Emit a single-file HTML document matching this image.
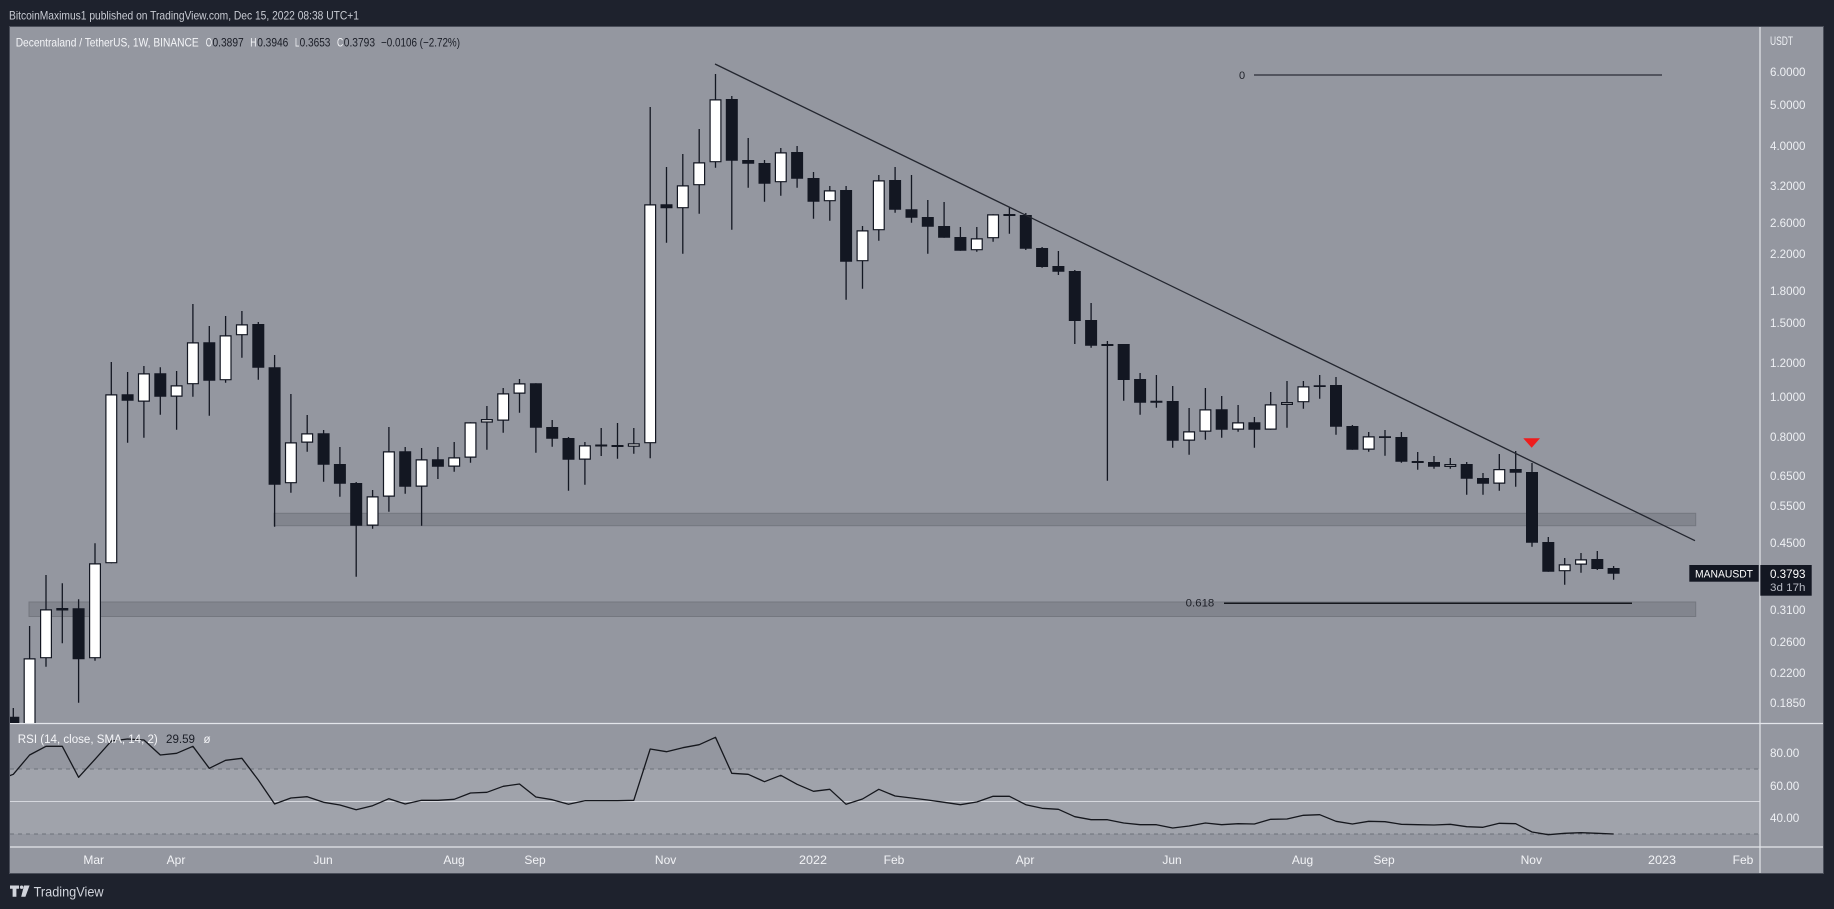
<!DOCTYPE html>
<html>
<head>
<meta charset="utf-8">
<style>
html,body{margin:0;padding:0;background:#1e222d;}
svg{display:block;}
text{font-family:"Liberation Sans",sans-serif;}
</style>
</head>
<body>
<svg width="1834" height="909" viewBox="0 0 1834 909" xmlns="http://www.w3.org/2000/svg">
<defs>
<clipPath id="pc"><rect x="10" y="27" width="1750" height="696"/></clipPath>
<clipPath id="rc"><rect x="10" y="724" width="1750" height="123"/></clipPath>
</defs>
<rect x="0" y="0" width="1834" height="909" fill="#1e222d"/>
<!-- header -->
<text x="9" y="19.5" font-size="12" fill="#c9ccd4" textLength="350" lengthAdjust="spacingAndGlyphs">BitcoinMaximus1 published on TradingView.com, Dec 15, 2022 08:38 UTC+1</text>
<!-- chart frame -->
<rect x="9.5" y="26.5" width="1814" height="847" fill="#9497a0" stroke="#4a4e59" stroke-width="1"/>
<!-- RSI band -->
<rect x="10" y="769" width="1750" height="65" fill="#a0a3ab"/>
<line x1="10" y1="769" x2="1760" y2="769" stroke="#6d707a" stroke-width="1" stroke-dasharray="4,4"/>
<line x1="10" y1="834" x2="1760" y2="834" stroke="#6d707a" stroke-width="1" stroke-dasharray="4,4"/>
<line x1="10" y1="801.5" x2="1760" y2="801.5" stroke="#d6d8de" stroke-width="1"/>
<!-- pane separators -->
<line x1="10" y1="723.5" x2="1823" y2="723.5" stroke="#e3e5ea" stroke-width="1.2"/>
<line x1="10" y1="847" x2="1823" y2="847" stroke="#e3e5ea" stroke-width="1.2"/>
<line x1="1760" y1="27" x2="1760" y2="873" stroke="#e3e5ea" stroke-width="1.2"/>

<!-- legend -->
<text x="15.7" y="46.5" font-size="12" fill="#f4f5f8" textLength="183" lengthAdjust="spacingAndGlyphs">Decentraland / TetherUS, 1W, BINANCE</text>
<text x="205.7" y="46.5" font-size="12" fill="#f4f5f8" textLength="6.3" lengthAdjust="spacingAndGlyphs">O</text>
<text x="212.5" y="46.5" font-size="12" fill="#1a1d26" textLength="31.2" lengthAdjust="spacingAndGlyphs">0.3897</text>
<text x="250.3" y="46.5" font-size="12" fill="#f4f5f8" textLength="6.2" lengthAdjust="spacingAndGlyphs">H</text>
<text x="257.2" y="46.5" font-size="12" fill="#1a1d26" textLength="31.1" lengthAdjust="spacingAndGlyphs">0.3946</text>
<text x="295" y="46.5" font-size="12" fill="#f4f5f8" textLength="4.2" lengthAdjust="spacingAndGlyphs">L</text>
<text x="299.6" y="46.5" font-size="12" fill="#1a1d26" textLength="30.8" lengthAdjust="spacingAndGlyphs">0.3653</text>
<text x="337" y="46.5" font-size="12" fill="#f4f5f8" textLength="6.2" lengthAdjust="spacingAndGlyphs">C</text>
<text x="343.8" y="46.5" font-size="12" fill="#1a1d26" textLength="31.2" lengthAdjust="spacingAndGlyphs">0.3793</text>
<text x="381" y="46.5" font-size="12" fill="#1a1d26" textLength="79" lengthAdjust="spacingAndGlyphs">−0.0106 (−2.72%)</text>

<g clip-path="url(#pc)">
<!-- support zones -->
<rect x="274" y="513.3" width="1421.7" height="12.4" fill="#82858e" stroke="#74777f" stroke-width="1"/>
<rect x="29" y="602" width="1666.7" height="14.5" fill="#82858e" stroke="#74777f" stroke-width="1"/>
<!-- fib lines -->
<line x1="1254" y1="75" x2="1662" y2="75" stroke="#2a2d36" stroke-width="1.3"/>
<text x="1242" y="79" font-size="11" fill="#1e2028" text-anchor="middle">0</text>
<line x1="1224" y1="603.3" x2="1632" y2="603.3" stroke="#15171d" stroke-width="1.5"/>
<text x="1185.7" y="606.5" font-size="11" fill="#1e2028" textLength="28.6" lengthAdjust="spacingAndGlyphs">0.618</text>
<!-- wicks -->
<path fill="none" stroke="#131722" stroke-width="1.3" d="M13.3 708V723M29.6 626V723M46 575V666.7M62.3 583.3V643.3M78.6 599.3V702.7M95 543.3V660.7M111.3 362V563.3M127.6 372V442.7M143.9 366V437.7M160.3 367.3V414.7M176.6 371V429.7M192.9 304V396.7M209.3 326V415.7M225.6 316V382.7M241.9 311V357.7M258.3 322V379.7M274.6 355V526.7M290.9 394V492.7M307.2 415V451.7M323.6 430V481.7M339.9 447V496.7M356.2 482V576.7M372.6 490V528.7M388.9 427V511.7M405.2 447V493.7M421.6 448V525.7M437.9 447V479M454.2 442V471.7M470.5 422.3V462.7M486.9 406V449.7M503.2 388V432.7M519.5 379V412.7M535.9 383.3V452.7M552.2 420V446.7M568.5 437V490.7M584.9 442V484.7M601.2 428V456M617.5 423V458.7M633.8 428V453.7M650.2 107V458.3M666.5 167V242.7M682.8 154V253.7M699.2 129V213.7M715.5 74V167.7M731.8 96V229.7M748.2 138V187.7M764.5 160V201.7M780.8 148V195.7M797.1 146V187.7M813.5 172V218.7M829.8 186V220.7M846.1 186V299.7M862.5 226V288.7M878.8 175V240.7M895.1 167V212.7M911.5 175V222.7M927.8 200V253.7M944.1 202V237.7M960.4 227V250.7M976.8 227V251.7M993.1 214.3V241.7M1009.4 207V233.7M1025.8 213V250M1042.1 247V267.7M1058.4 251V275M1074.8 270V344M1091.1 303V347.7M1107.4 341V480.7M1123.7 344V400.7M1140.1 373V414.7M1156.4 375V407.7M1172.7 386V447.7M1189.1 408V454.7M1205.4 388V439.7M1221.7 396V437.7M1238.1 405V431.7M1254.4 417V447.7M1270.7 392V429.7M1287 381V427.7M1303.4 381V408.7M1319.7 375V398.7M1336 377V434.7M1352.4 425V449.7M1368.7 432V451.7M1385 430V455.7M1401.4 432V462.7M1417.7 452V469.7M1434 456V468.7M1450.3 458V468.7M1466.7 462V494.7M1483 473V494.7M1499.3 454V490.7M1515.7 451V486.7M1532 463V546.7M1548.3 537V571.7M1564.7 558V584.7M1581 553V572.7M1597.3 551V570M1613.6 566V579.7"/>
<!-- dark bodies -->
<path fill="#131722" d="M7.3 716.7h12V723h-12zM56.3 608h12V610.5h-12zM72.6 608.3h12V659.3h-12zM121.6 394.3h12V400.7h-12zM154.3 373.3h12V396.7h-12zM203.3 342.3h12V380.7h-12zM252.3 324h12V367.7h-12zM268.6 367.3h12V484.7h-12zM317.6 433.3h12V464.7h-12zM333.9 464h12V483.7h-12zM350.2 483h12V525.7h-12zM399.2 451.3h12V486.7h-12zM431.9 459.3h12V466.7h-12zM529.9 383.3h12V427.7h-12zM546.2 427h12V438.7h-12zM562.5 438h12V459.7h-12zM595.2 444.5h12V446.5h-12zM611.5 445h12V447h-12zM660.5 204.3h12V208.3h-12zM725.8 99h12V160.7h-12zM742.2 160h12V163.7h-12zM758.5 163h12V183.7h-12zM791.1 152h12V178.7h-12zM807.5 178h12V201.7h-12zM840.1 190h12V261.7h-12zM889.1 180h12V209.7h-12zM905.5 209.3h12V217.7h-12zM921.8 217h12V226.7h-12zM938.1 226h12V237.7h-12zM954.4 237h12V250.7h-12zM1003.4 214h12V216h-12zM1019.8 215h12V248.7h-12zM1036.1 248h12V267h-12zM1052.4 266h12V271.7h-12zM1068.8 271h12V321h-12zM1085.1 320h12V345.7h-12zM1101.4 344h12V346h-12zM1117.7 344h12V380h-12zM1134.1 379h12V402.7h-12zM1150.4 400.7h12V402.7h-12zM1166.7 401h12V440.7h-12zM1215.7 409.3h12V429.7h-12zM1248.4 422.3h12V429.7h-12zM1313.7 385.3h12V387h-12zM1330 385h12V426.7h-12zM1346.4 426h12V449.7h-12zM1379 436.3h12V438h-12zM1395.4 437h12V461.7h-12zM1411.7 461h12V463h-12zM1428 462h12V466.7h-12zM1460.7 464h12V478.7h-12zM1477 478h12V483.7h-12zM1509.7 469h12V472.7h-12zM1526 472h12V542.7h-12zM1542.3 542h12V571.7h-12zM1591.3 559h12V569h-12zM1607.6 568h12V573.7h-12z"/>
<!-- white bodies -->
<path fill="#ffffff" stroke="#131722" stroke-width="1.2" d="M24.2 658.9h10.8V730h-10.8zM40.6 609.9h10.8V657.7h-10.8zM89.6 563.9h10.8V657.7h-10.8zM105.9 394.9h10.8V562.7h-10.8zM138.5 373.9h10.8V401.1h-10.8zM171.2 385.9h10.8V396.1h-10.8zM187.5 342.9h10.8V383.7h-10.8zM220.2 335.9h10.8V379.7h-10.8zM236.5 324.9h10.8V334.7h-10.8zM285.5 442.9h10.8V482.7h-10.8zM301.8 433.9h10.8V442.1h-10.8zM367.2 496.9h10.8V525.1h-10.8zM383.5 451.9h10.8V496.1h-10.8zM416.2 459.9h10.8V486.1h-10.8zM448.8 457.9h10.8V466.1h-10.8zM465.1 422.9h10.8V457.1h-10.8zM481.5 419.6h10.8V422h-10.8zM497.8 393.9h10.8V420.1h-10.8zM514.1 383.9h10.8V393.1h-10.8zM579.5 445.9h10.8V459.1h-10.8zM628.4 443.9h10.8V446.1h-10.8zM644.8 204.9h10.8V442.7h-10.8zM677.4 185.9h10.8V207.7h-10.8zM693.8 162.9h10.8V184.7h-10.8zM710.1 99.9h10.8V161.7h-10.8zM775.4 152.9h10.8V181.7h-10.8zM824.4 190.9h10.8V200.7h-10.8zM857.1 230.9h10.8V260.7h-10.8zM873.4 180.9h10.8V229.7h-10.8zM971.4 238.9h10.8V249.7h-10.8zM987.7 214.9h10.8V237.7h-10.8zM1183.7 431.9h10.8V440.1h-10.8zM1200 409.9h10.8V431.1h-10.8zM1232.7 422.9h10.8V429.1h-10.8zM1265.3 404.9h10.8V429.1h-10.8zM1281.6 402.6h10.8V404.4h-10.8zM1298 386.9h10.8V401.7h-10.8zM1363.3 436.9h10.8V449.1h-10.8zM1444.9 464.6h10.8V466.4h-10.8zM1493.9 469.6h10.8V483.1h-10.8zM1559.3 564.9h10.8V570.7h-10.8zM1575.6 559.9h10.8V564.1h-10.8z"/>
<!-- trend line -->
<line x1="715" y1="64" x2="1695" y2="540.7" stroke="#23262f" stroke-width="1.3"/>
<!-- red marker -->
<polygon points="1523.3,438.3 1540,438.3 1531.7,447.7" fill="#ee1c1c"/>
</g>

<!-- RSI line -->
<g clip-path="url(#rc)">
<polyline fill="none" stroke="#15171d" stroke-width="1.3" stroke-linejoin="round" points="9,776 13.3,774.3 29.6,755 46,746.3 62.3,746.3 78.6,777.3 95,759.3 111.3,741 127.6,739 143.9,740 160.3,755 176.6,753.3 192.9,746.3 209.3,768.3 225.6,760.3 241.9,758.3 258.3,780 274.6,804 290.9,798 307.2,796.7 323.6,802.3 339.9,805 356.2,809.7 372.6,805.7 388.9,798.7 405.2,804 421.6,800.3 437.9,800.3 454.2,799.3 470.5,793 486.9,792.3 503.2,786.3 519.5,784 535.9,797 552.2,799.7 568.5,804.3 584.9,800.7 601.2,800.7 617.5,800.7 633.8,800.3 650.2,749 666.5,751.7 682.8,747.7 699.2,744.7 715.5,737.3 731.8,773.3 748.2,774.3 764.5,781.7 780.8,775.3 797.1,784.3 813.5,791.3 829.8,789.3 846.1,804.3 862.5,799 878.8,789.3 895.1,796 911.5,798 927.8,800 944.1,802.3 960.4,804.7 976.8,802 993.1,796.3 1009.4,796.3 1025.8,804.7 1042.1,808.3 1058.4,809.3 1074.8,816.7 1091.1,819.7 1107.4,819.7 1123.7,823 1140.1,824.7 1156.4,824.7 1172.7,828 1189.1,826 1205.4,823 1221.7,824.7 1238.1,823.7 1254.4,824 1270.7,819.3 1287,819 1303.4,815.3 1319.7,814.7 1336,821.3 1352.4,824 1368.7,821.3 1385,821.7 1401.4,824.3 1417.7,824.7 1434,825 1450.3,824.3 1466.7,826.7 1483,827.3 1499.3,823.3 1515.7,823.7 1532,832 1548.3,834.7 1564.7,833.3 1581,832.7 1597.3,833.3 1613.6,834"/>
</g>
<!-- RSI label -->
<text x="17.8" y="743" font-size="11.5" fill="#f4f5f8" textLength="140" lengthAdjust="spacingAndGlyphs">RSI (14, close, SMA, 14, 2)</text>
<text x="166" y="743" font-size="11.5" fill="#1a1d26" textLength="29" lengthAdjust="spacingAndGlyphs">29.59</text>
<text x="203.5" y="743" font-size="11.5" fill="#f4f5f8">ø</text>

<!-- price axis labels -->
<g font-size="11.5" fill="#eef0f4">
<text x="1770" y="45" textLength="23" lengthAdjust="spacingAndGlyphs">USDT</text>
<text x="1770" y="76" textLength="35.5" lengthAdjust="spacingAndGlyphs">6.0000</text>
<text x="1770" y="109" textLength="35.5" lengthAdjust="spacingAndGlyphs">5.0000</text>
<text x="1770" y="150" textLength="35.5" lengthAdjust="spacingAndGlyphs">4.0000</text>
<text x="1770" y="190" textLength="35.5" lengthAdjust="spacingAndGlyphs">3.2000</text>
<text x="1770" y="227" textLength="35.5" lengthAdjust="spacingAndGlyphs">2.6000</text>
<text x="1770" y="258" textLength="35.5" lengthAdjust="spacingAndGlyphs">2.2000</text>
<text x="1770" y="295" textLength="35.5" lengthAdjust="spacingAndGlyphs">1.8000</text>
<text x="1770" y="327" textLength="35.5" lengthAdjust="spacingAndGlyphs">1.5000</text>
<text x="1770" y="367" textLength="35.5" lengthAdjust="spacingAndGlyphs">1.2000</text>
<text x="1770" y="401" textLength="35.5" lengthAdjust="spacingAndGlyphs">1.0000</text>
<text x="1770" y="441" textLength="35.5" lengthAdjust="spacingAndGlyphs">0.8000</text>
<text x="1770" y="480" textLength="35.5" lengthAdjust="spacingAndGlyphs">0.6500</text>
<text x="1770" y="510" textLength="35.5" lengthAdjust="spacingAndGlyphs">0.5500</text>
<text x="1770" y="547" textLength="35.5" lengthAdjust="spacingAndGlyphs">0.4500</text>
<text x="1770" y="614" textLength="35.5" lengthAdjust="spacingAndGlyphs">0.3100</text>
<text x="1770" y="646" textLength="35.5" lengthAdjust="spacingAndGlyphs">0.2600</text>
<text x="1770" y="677" textLength="35.5" lengthAdjust="spacingAndGlyphs">0.2200</text>
<text x="1770" y="707" textLength="35.5" lengthAdjust="spacingAndGlyphs">0.1850</text>
<text x="1770" y="757" textLength="29.3" lengthAdjust="spacingAndGlyphs">80.00</text>
<text x="1770" y="790" textLength="29.3" lengthAdjust="spacingAndGlyphs">60.00</text>
<text x="1770" y="822" textLength="29.3" lengthAdjust="spacingAndGlyphs">40.00</text>
</g>
<!-- price tags -->
<rect x="1689.3" y="565" width="69.4" height="16.7" fill="#131722"/>
<text x="1724" y="577.5" font-size="11" fill="#ffffff" text-anchor="middle" textLength="58" lengthAdjust="spacingAndGlyphs">MANAUSDT</text>
<rect x="1760.3" y="565" width="51.4" height="30.7" fill="#131722"/>
<text x="1770" y="578" font-size="11.5" fill="#ffffff" textLength="35.5" lengthAdjust="spacingAndGlyphs">0.3793</text>
<text x="1770" y="591" font-size="11" fill="#b8bbc4" textLength="35.5" lengthAdjust="spacingAndGlyphs">3d 17h</text>

<!-- time axis -->
<g font-size="12" fill="#f2f3f6" text-anchor="middle">
<text x="93.7" y="864">Mar</text>
<text x="176" y="864">Apr</text>
<text x="323" y="864">Jun</text>
<text x="454" y="864">Aug</text>
<text x="535" y="864">Sep</text>
<text x="665.6" y="864">Nov</text>
<text x="813" y="864" textLength="28" lengthAdjust="spacingAndGlyphs">2022</text>
<text x="894" y="864">Feb</text>
<text x="1025" y="864">Apr</text>
<text x="1172" y="864">Jun</text>
<text x="1302.5" y="864">Aug</text>
<text x="1384" y="864">Sep</text>
<text x="1531.3" y="864">Nov</text>
<text x="1662" y="864" textLength="28" lengthAdjust="spacingAndGlyphs">2023</text>
<text x="1743" y="864">Feb</text>
</g>

<!-- TradingView logo -->
<g fill="#d1d4dc">
<path d="M10 885.5h9v3.3h-2.6v8h-3.8v-8H10z"/>
<circle cx="21.6" cy="887.2" r="1.7"/>
<path d="M24 885.5h5.6l-4.2 11.3h-4.2z"/>
</g>
<text x="33.6" y="896.5" font-size="14" fill="#d1d4dc" textLength="70" lengthAdjust="spacingAndGlyphs">TradingView</text>
</svg>
</body>
</html>
